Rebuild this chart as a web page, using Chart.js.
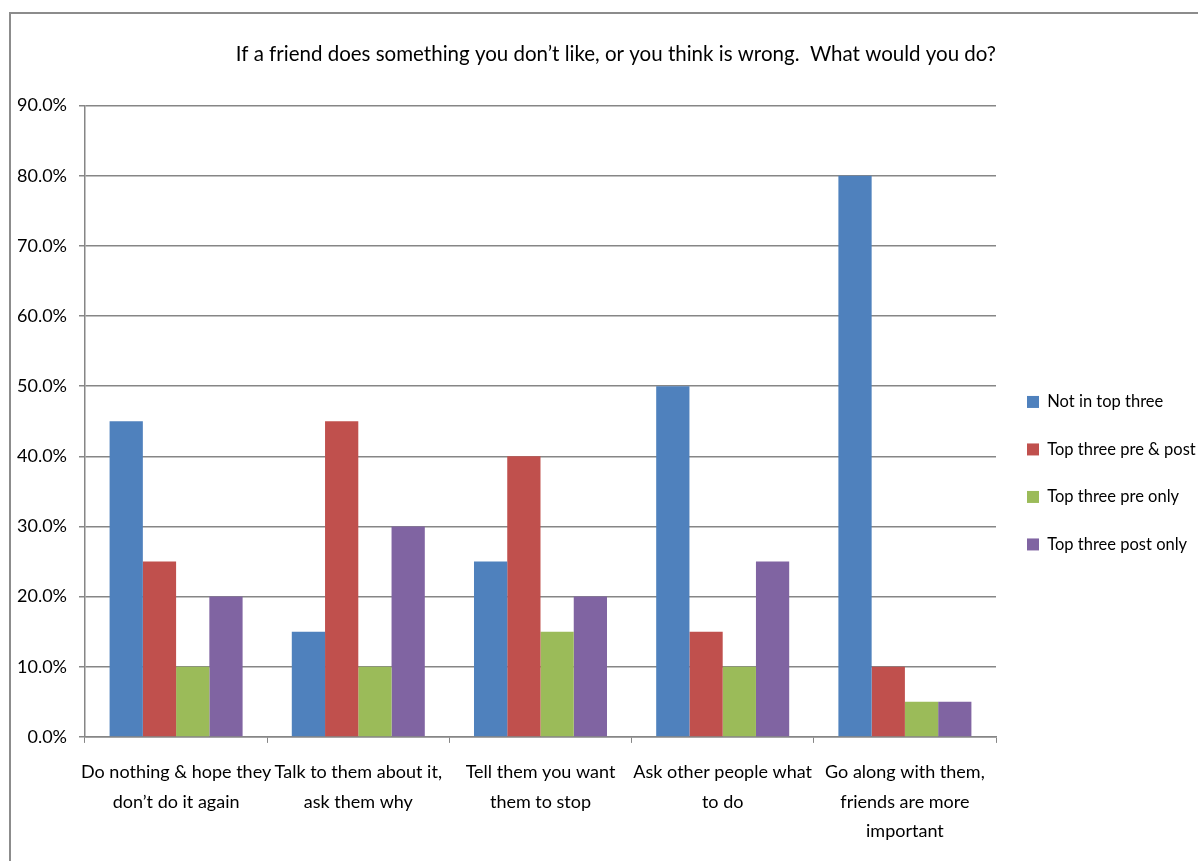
<!DOCTYPE html>
<html>
<head>
<meta charset="utf-8">
<script src="https://cdn.jsdelivr.net/npm/chart.js@4.4.1/dist/chart.umd.min.js"></script>
<style>
  html, body { margin: 0; padding: 0; background: #fff; overflow: hidden; }
  #frame {
    position: absolute; left: 9px; top: 12px; width: 1300px; height: 1000px;
    border-left: 2px solid #8c8c8c; border-top: 2px solid #8c8c8c;
  }
  #wrap { position: absolute; left: 0; top: 0; width: 1198px; height: 861px; }
</style>
</head>
<body>
<div id="frame"></div>
<div id="wrap"><canvas id="friendChart"></canvas></div>
<script>
// Survey answers, share of respondents per option
const categories = [
  ['Do nothing & hope they', 'don\u2019t do it again'],
  ['Talk to them about it,', 'ask them why'],
  ['Tell them you want', 'them to stop'],
  ['Ask other people what', 'to do'],
  ['Go along with them,', 'friends are more', 'important']
];
const notInTopThree = [45, 15, 25, 50, 80];
const topThreePrePost = [25, 45, 40, 15, 10];
const topThreePreOnly = [10, 10, 15, 10, 5];
const topThreePostOnly = [20, 30, 20, 25, 5];

const seriesNames = ['Not in top three', 'Top three pre & post', 'Top three pre only', 'Top three post only'];
const seriesColors = ['#4F81BD', '#C0504D', '#9BBB59', '#8064A2'];
const yTicks = [0, 10, 20, 30, 40, 50, 60, 70, 80, 90];

const fontFamily = 'Lato, "Open Sans", sans-serif';
const gridColor = '#868686';

const seriesData = [notInTopThree, topThreePrePost, topThreePreOnly, topThreePostOnly];

const friendCtx = document.getElementById('friendChart').getContext('2d');
const friendChart = new Chart(friendCtx, {
  type: 'bar',
  data: {
    labels: categories,
    datasets: seriesData.map((vals, i) => ({
      label: seriesNames[i],
      data: vals,
      backgroundColor: seriesColors[i],
      borderWidth: 0,
      barPercentage: 1,
      categoryPercentage: 0.73
    }))
  },
  options: {
    responsive: true,
    maintainAspectRatio: false,
    animation: false,
    layout: { padding: { left: 5, right: -5, top: 20, bottom: 0 } },
    plugins: {
      tooltip: { enabled: false },
      title: {
        display: true,
        text: 'If a friend does something you don\u2019t like, or you think is wrong.  What would you do?',
        color: '#000',
        font: { family: fontFamily, size: 20.5, weight: 'normal' },
        fullSize: false,
        align: 'end',
        padding: { top: 22, bottom: 39 }
      },
      legend: {
        position: 'right',
        maxWidth: 207,
        // empty legend title only pushes the item block down a little
        title: { display: true, text: '', padding: { top: 51, bottom: 0 } },
        labels: {
          color: '#000',
          font: { family: fontFamily, size: 16.5 },
          boxWidth: 12,
          boxHeight: 12,
          padding: 31
        }
      }
    },
    scales: {
      x: {
        grid: {
          drawOnChartArea: false,
          drawTicks: true,
          tickLength: 6,
          color: gridColor
        },
        border: { color: gridColor, width: 1.5 },
        ticks: {
          color: '#000',
          maxRotation: 0,
          autoSkip: false,
          padding: 14.5,
          font: { family: fontFamily, size: 18, lineHeight: 1.65 }
        }
      },
      y: {
        min: 0,
        max: 90,
        afterBuildTicks: axis => { axis.ticks = yTicks.map(v => ({ value: v })); },
        grid: { color: gridColor, lineWidth: 1.5, tickLength: 6 },
        border: { color: gridColor, width: 1.5 },
        ticks: {
          color: '#000',
          padding: 12,
          font: { family: fontFamily, size: 18 },
          callback: v => v.toFixed(1) + '%'
        }
      }
    }
  }
});
</script>
</body>
</html>
